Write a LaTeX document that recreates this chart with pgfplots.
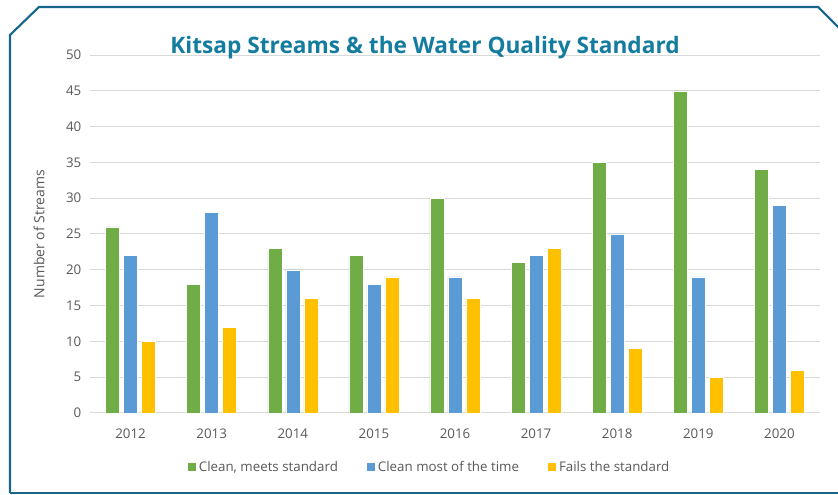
\documentclass[border=0pt]{standalone}
\usepackage{pgfplots}
\pgfplotsset{compat=1.18}
\usepackage{fontspec}
\setmainfont{Open Sans}
\definecolor{titlec}{RGB}{20,124,158}
\definecolor{borderc}{RGB}{23,103,140}
\definecolor{txt}{RGB}{89,89,89}
\definecolor{gridc}{RGB}{217,217,217}
\definecolor{cgreen}{RGB}{112,173,71}
\definecolor{cblue}{RGB}{91,155,213}
\definecolor{cyellow}{RGB}{255,192,0}
\begin{document}
\begin{tikzpicture}[x=0.75pt,y=0.75pt]
\path[use as bounding box] (0,0) rectangle (838,495);
\fill[white] (0,0) rectangle (838,495);
\draw[borderc, line width=1.6pt, line join=miter] (10,2) -- (10,460) -- (39,488) -- (818,488) -- (845,461);
\draw[borderc, line width=1.6pt] (10,2) -- (845,2);
\begin{axis}[
  at={(67.5pt,61.5pt)}, anchor=south west,
  width=547.5pt, height=268.5pt, scale only axis,
  ybar=3pt, bar width=10.5pt,
  xmin=-0.5, xmax=8.5, ymin=0, ymax=50,
  ytick={0,5,...,50},
  xtick={0,...,8},
  xticklabels={2012,2013,2014,2015,2016,2017,2018,2019,2020},
  ymajorgrids, grid style={gridc, line width=0.75pt},
  axis line style={draw=none},
  major tick style={draw=none},
  /pgf/number format/assume math mode=true,
  ticklabel style={font=\fontsize{10}{12}\selectfont, text=txt},
  yticklabel style={xshift=-3pt},
  xticklabel style={yshift=-4pt},
  ylabel={Number of Streams},
  ylabel style={font=\fontsize{10.5}{12}\selectfont, text=txt, at={(axis description cs:-0.056,0.5)}},
  legend columns=3,
  legend style={at={(0.465,-0.151)}, anchor=center, draw=none, fill=none,
    font=\fontsize{10}{12}\selectfont, text=txt,
    /tikz/every even column/.append style={column sep=19pt}},
  legend image code/.code={\fill[#1] (0pt,-3.3pt) rectangle (6.6pt,3.3pt);},
  title={Kitsap Streams \& the Water Quality Standard},
  title style={font=\bfseries\fontsize{17}{20}\selectfont, text=titlec, at={(0.459,1)}, anchor=center, yshift=-0.5pt},
]
\addplot[fill=cgreen, draw=white, line width=0.4pt] coordinates {(0,26) (1,18) (2,23) (3,22) (4,30) (5,21) (6,35) (7,45) (8,34)};
\addplot[fill=cblue, draw=white, line width=0.4pt] coordinates {(0,22) (1,28) (2,20) (3,18) (4,19) (5,22) (6,25) (7,19) (8,29)};
\addplot[fill=cyellow, draw=white, line width=0.4pt] coordinates {(0,10) (1,12) (2,16) (3,19) (4,16) (5,23) (6,9) (7,5) (8,6)};
\legend{{Clean, meets standard}, {Clean most of the time}, {Fails the standard}}
\end{axis}
\end{tikzpicture}
\end{document}
